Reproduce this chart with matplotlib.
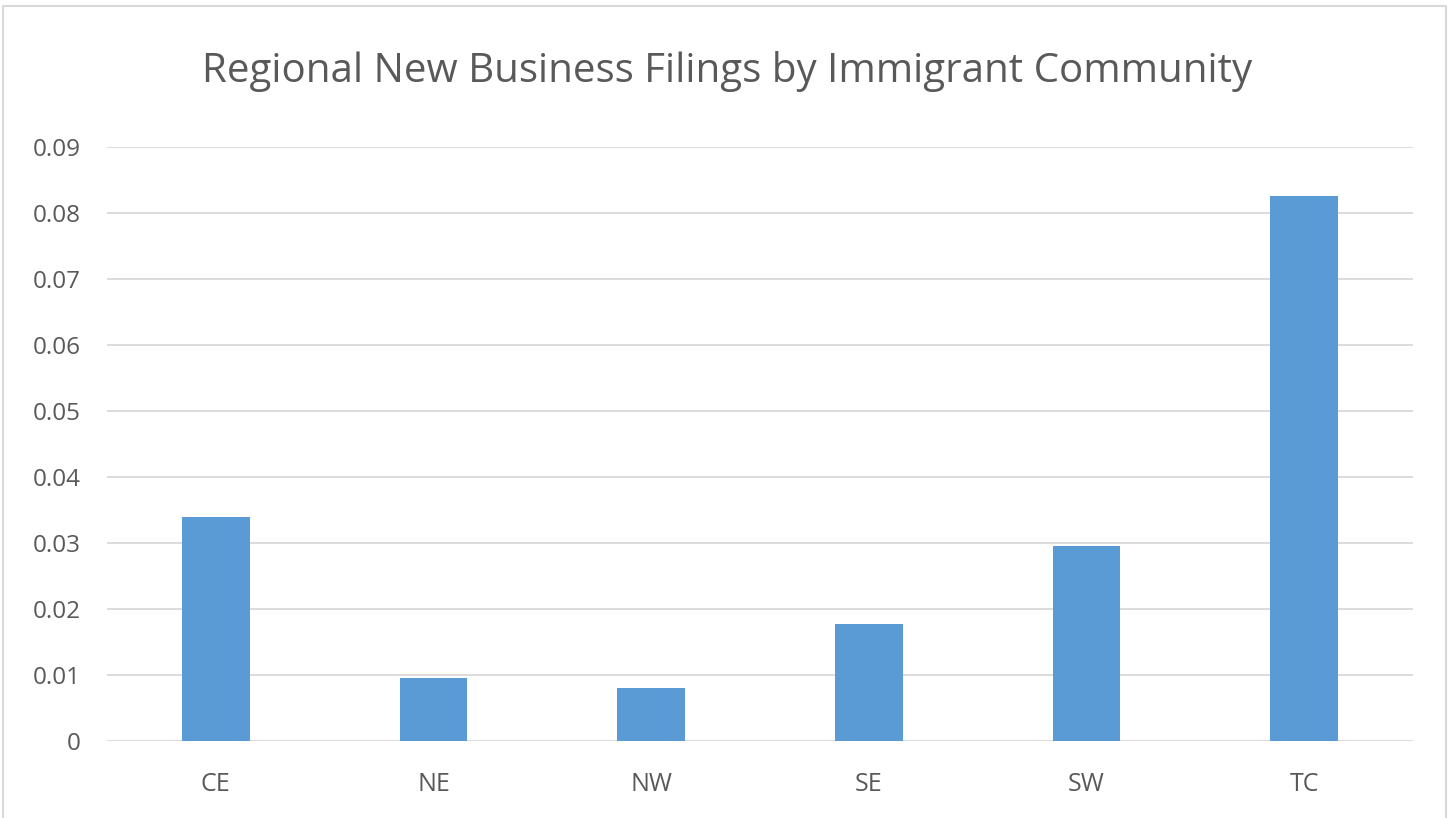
import matplotlib.pyplot as plt
from matplotlib.patches import Rectangle

# Chart values
regions = ['CE', 'NE', 'NW', 'SE', 'SW', 'TC']
filings = [0.0339, 0.0096, 0.0080, 0.0177, 0.0295, 0.0826]
y_ticks = [0, 0.01, 0.02, 0.03, 0.04, 0.05, 0.06, 0.07, 0.08, 0.09]
y_labels = ['0', '0.01', '0.02', '0.03', '0.04', '0.05', '0.06', '0.07', '0.08', '0.09']

plt.rcParams['font.family'] = ['Open Sans', 'DejaVu Sans']

fig = plt.figure(figsize=(14.55, 8.18), dpi=100)
ax = fig.add_axes([107 / 1455, 1 - 741 / 818, 1306 / 1455, 594 / 818])

# Excel-style bars
x = range(len(regions))
ax.bar(x, filings, width=0.31, color='#5B9BD5', zorder=3)

ax.set_xlim(-0.5, len(regions) - 0.5)
ax.set_ylim(0, 0.09)
ax.set_xticks(list(x))
ax.set_xticklabels(regions, fontsize=18, color='#595959')
ax.set_yticks(y_ticks)
ax.set_yticklabels(y_labels, fontsize=17.5, color='#595959')
ax.tick_params(axis='both', length=0)
ax.tick_params(axis='x', pad=22)
ax.tick_params(axis='y', pad=19)

ax.grid(axis='y', color='#D9D9D9', linewidth=1.3, zorder=0)
for side in ['top', 'right', 'left', 'bottom']:
    ax.spines[side].set_visible(False)

fig.text(727 / 1455, 1 - 72 / 818, 'Regional New Business Filings by Immigrant Community',
         ha='center', va='center', fontsize=29, color='#595959')

# light chart border
fig.patches.append(Rectangle((3 / 1455, -0.01), 1443 / 1455, 1 - 6 / 818 + 0.01,
                             transform=fig.transFigure, fill=False,
                             edgecolor='#D9D9D9', linewidth=1.5))

fig.savefig('out.png', dpi=100)
